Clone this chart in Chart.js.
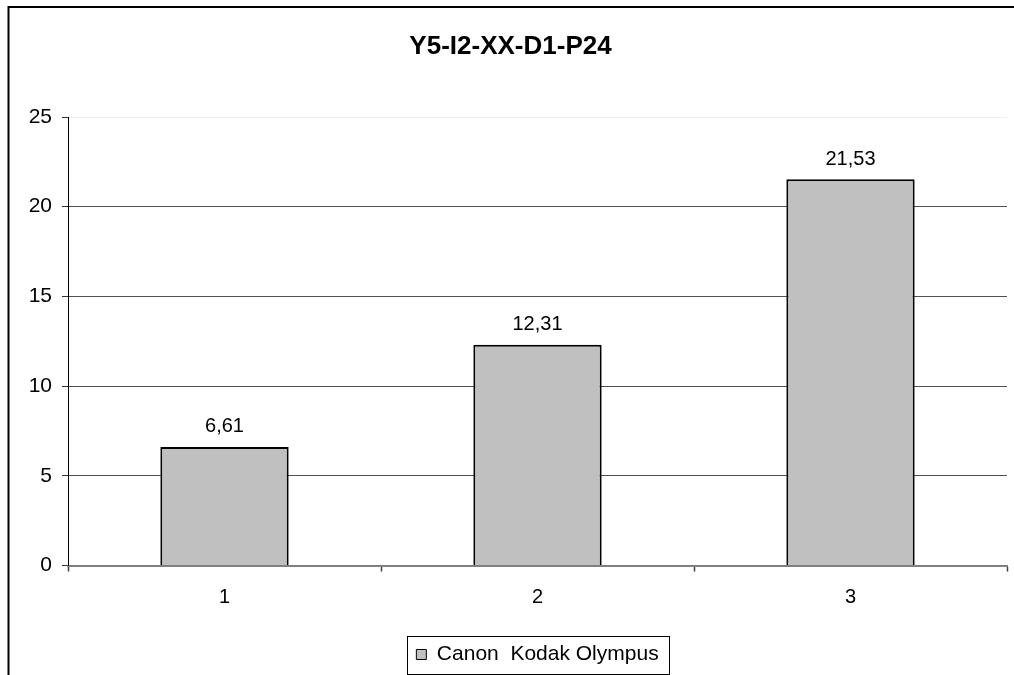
<!DOCTYPE html>
<html>
<head>
<meta charset="UTF-8">
<title>Y5-I2-XX-D1-P24</title>
<script src="https://cdn.jsdelivr.net/npm/chart.js"></script>
<style>
    body { margin: 0; background: #fff; }
    #chart { display: block; }
</style>
</head>
<body>
<canvas id="chart" width="1014" height="675"></canvas>
<script>
    // dane wykresu
    const categories = ["1", "2", "3"];
    const seriesLabel = "Canon  Kodak Olympus";
    const values = [6.61, 12.31, 21.53];
    const yTicks = [0, 5, 10, 15, 20, 25];

    Chart.defaults.font.family = "'Liberation Sans', Arial, sans-serif";
    Chart.defaults.color = "#000";

    // ramka dookola calego wykresu
    const outerFrame = {
        id: "outerFrame",
        beforeDraw(chart) {
            const ctx = chart.ctx;
            ctx.save();
            ctx.fillStyle = "#fff";
            ctx.fillRect(0, 0, chart.width, chart.height);
            ctx.strokeStyle = "#000";
            ctx.lineWidth = 2;
            ctx.strokeRect(8.5, 7, chart.width + 50, chart.height + 50);
            ctx.restore();
        }
    };

    // etykiety wartosci nad slupkami
    const valueLabels = {
        id: "valueLabels",
        afterDatasetsDraw(chart) {
            const ctx = chart.ctx;
            const meta = chart.getDatasetMeta(0);
            ctx.save();
            ctx.font = "20px 'Liberation Sans', Arial, sans-serif";
            ctx.fillStyle = "#000";
            ctx.textAlign = "center";
            ctx.textBaseline = "bottom";
            meta.data.forEach((bar, i) => {
                const txt = values[i].toFixed(2).replace(".", ",");
                ctx.fillText(txt, bar.x, bar.y - 10);
            });
            ctx.restore();
        }
    };

    // ramka legendy
    const legendFrame = {
        id: "legendFrame",
        afterDraw(chart) {
            const box = chart.legend.legendHitBoxes[0];
            if (!box) return;
            const ctx = chart.ctx;
            ctx.save();
            ctx.strokeStyle = "#000";
            ctx.lineWidth = 1;
            ctx.strokeRect(Math.round(box.left - 9) + 0.5, Math.round(box.top - 8.5) + 0.5,
                Math.round(box.width + 20), Math.round(box.height + 17));
            ctx.restore();
        }
    };

    new Chart(document.getElementById("chart"), {
        type: "bar",
        data: {
            labels: categories,
            datasets: [{
                label: seriesLabel,
                data: values,
                backgroundColor: "#c0c0c0",
                borderColor: "#000",
                borderWidth: 2,
                categoryPercentage: 1,
                barPercentage: 0.41
            }]
        },
        options: {
            responsive: false,
            animation: false,
            layout: { padding: { left: 14, right: 7, top: 0, bottom: 0 } },
            plugins: {
                title: {
                    display: true,
                    text: "Y5-I2-XX-D1-P24",
                    font: { size: 26, weight: "bold" },
                    color: "#000",
                    padding: { top: 31, bottom: 54.8 }
                },
                legend: {
                    position: "bottom",
                    fullSize: false,
                    labels: {
                        boxWidth: 10,
                        boxHeight: 10,
                        padding: 1.5,
                        font: { size: 21 },
                        color: "#000",
                        generateLabels(chart) {
                            return [{
                                text: seriesLabel,
                                fillStyle: "#c0c0c0",
                                strokeStyle: "#000",
                                lineWidth: 1,
                                datasetIndex: 0
                            }];
                        }
                    }
                },
                tooltip: { enabled: false }
            },
            scales: {
                x: {
                    afterFit(s) { s.height = 77; },
                    grid: {
                        offset: true,
                        drawOnChartArea: false,
                        drawTicks: true,
                        tickLength: 6,
                        tickColor: "#404040",
                        tickWidth: 1.5
                    },
                    border: { color: "#808080", width: 2 },
                    ticks: { font: { size: 20 }, color: "#000", padding: 14 }
                },
                y: {
                    min: 0,
                    max: 25,
                    afterFit(s) { s.width = 54; },
                    afterBuildTicks(s) { s.ticks = yTicks.map(v => ({ value: v })); },
                    grid: {
                        color: (c) => c.tick.value === 25 ? "#eeeeee" : (c.tick.value === 0 ? "rgba(0,0,0,0)" : "#505050"),
                        tickLength: 6,
                        tickColor: "#333"
                    },
                    border: { color: "#000", width: 1 },
                    ticks: { font: { size: 21 }, color: "#000", padding: 10 }
                }
            }
        },
        plugins: [outerFrame, valueLabels, legendFrame]
    });
</script>
</body>
</html>
